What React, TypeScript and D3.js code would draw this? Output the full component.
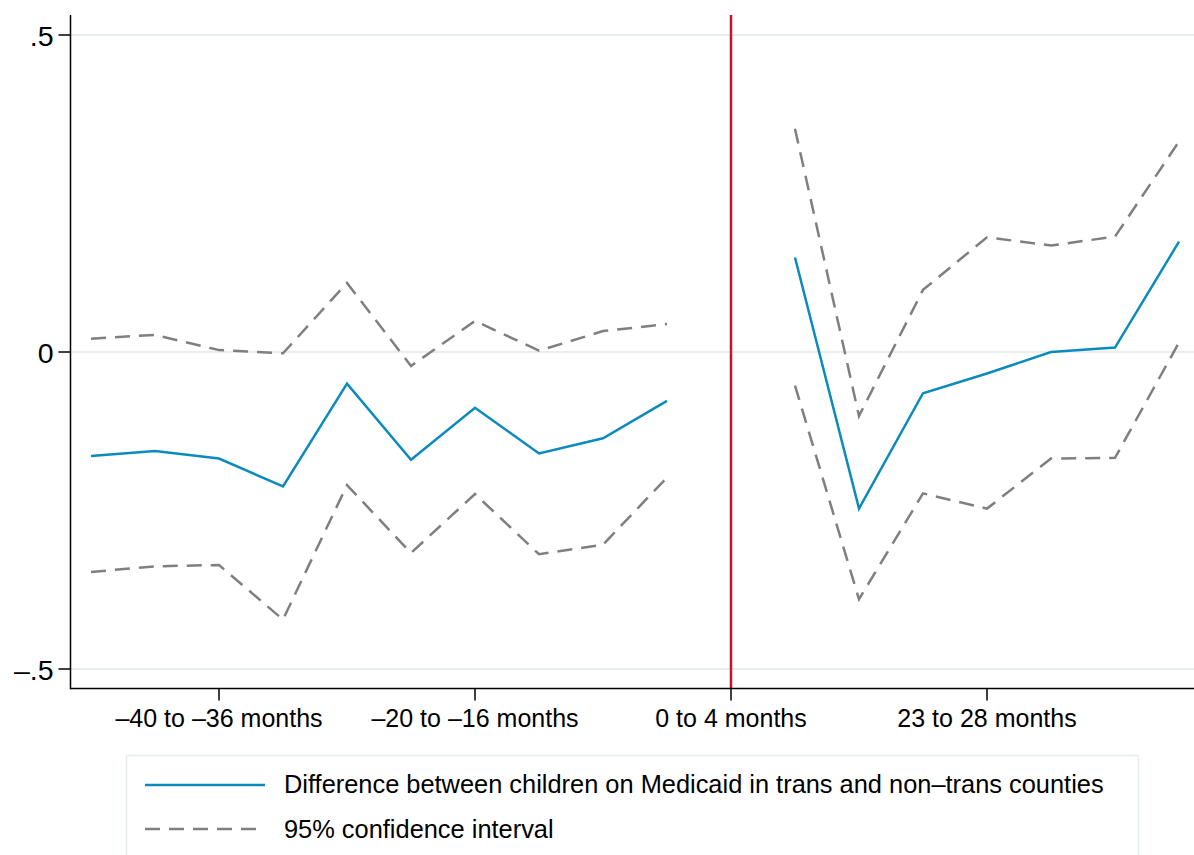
import React from "react";
import * as d3 from "d3";

// Period index 0..17 (index 10 = policy start, no estimate)
const periods: number[] = d3.range(0, 18);
const estimate: (number | null)[] = [
  -0.164, -0.156, -0.168, -0.212, -0.050, -0.170, -0.088, -0.160, -0.136, -0.077,
  null,
  0.149, -0.247, -0.065, -0.034, 0.000, 0.007, 0.174,
];
const upperCI: (number | null)[] = [
  0.021, 0.027, 0.003, -0.002, 0.109, -0.022, 0.049, 0.002, 0.033, 0.044,
  null,
  0.352, -0.101, 0.098, 0.181, 0.168, 0.182, 0.332,
];
const lowerCI: (number | null)[] = [
  -0.347, -0.338, -0.336, -0.422, -0.210, -0.317, -0.224, -0.319, -0.304, -0.198,
  null,
  -0.053, -0.390, -0.223, -0.247, -0.168, -0.167, 0.015,
];
const xTickIdx: number[] = [2, 6, 10, 14];
const xTickLabels: string[] = ["–40 to –36 months", "–20 to –16 months", "0 to 4 months", "23 to 28 months"];
const yTicks: number[] = [-0.5, 0, 0.5];
const yTickLabels: string[] = ["–.5", "0", ".5"];
const eventIdx = 10;
const legendLabels: string[] = [
  "Difference between children on Medicaid in trans and non–trans counties",
  "95% confidence interval",
];

const W = 1194, H = 855;
const axisX = 70.5, axisY = 688.5, plotTop = 15;
const BLUE = "#0b8bbd", GREY = "#7f7f7f", RED = "#c8102e", GRID = "#e6eef0";
const FONT = "'Liberation Sans', Arial, Helvetica, sans-serif";

export default function App() {
  const x = d3.scaleLinear().domain([0, 17]).range([91, 1179]);
  const y = d3.scaleLinear().domain([-0.5, 0.5]).range([669, 35]);

  const mk = (vals: (number | null)[]) =>
    d3
      .line<number>()
      .defined((i) => vals[i] !== null)
      .x((i) => x(i))
      .y((i) => y(vals[i] as number))(periods) || "";

  return (
    <svg
      width={W}
      height={H}
      style={{ position: "absolute", left: 0, top: 0, display: "block", background: "#fff" }}
      fontFamily={FONT}
    >
      <rect x={0} y={0} width={W} height={H} fill="#fff" />
      {/* gridlines */}
      {yTicks.map((t) => (
        <line key={"g" + t} x1={axisX} x2={W} y1={y(t)} y2={y(t)} stroke={GRID} strokeWidth={2} />
      ))}
      {/* event line */}
      <line x1={x(eventIdx)} x2={x(eventIdx)} y1={plotTop} y2={axisY} stroke={RED} strokeWidth={2.5} />
      {/* CI lines */}
      <path d={mk(upperCI)} fill="none" stroke={GREY} strokeWidth={2.5} strokeDasharray="15,9" />
      <path d={mk(lowerCI)} fill="none" stroke={GREY} strokeWidth={2.5} strokeDasharray="15,9" />
      {/* estimate */}
      <path d={mk(estimate)} fill="none" stroke={BLUE} strokeWidth={2.5} strokeLinejoin="miter" />
      {/* axes */}
      <line x1={axisX} x2={axisX} y1={plotTop} y2={axisY + 0.75} stroke="#000" strokeWidth={1.5} />
      <line x1={axisX} x2={W} y1={axisY} y2={axisY} stroke="#000" strokeWidth={1.5} />
      {yTicks.map((t, i) => (
        <g key={"y" + t}>
          <line x1={axisX - 12} x2={axisX} y1={y(t)} y2={y(t)} stroke="#000" strokeWidth={1.5} />
          <text x={axisX - 17} y={y(t) + 10.5} fontSize={28.5} textAnchor="end" fill="#000">
            {yTickLabels[i]}
          </text>
        </g>
      ))}
      {xTickIdx.map((t, i) => (
        <g key={"x" + t}>
          <line x1={x(t)} x2={x(t)} y1={axisY} y2={axisY + 12} stroke="#000" strokeWidth={1.5} />
          <text x={x(t)} y={727} fontSize={25} textAnchor="middle" fill="#000">
            {xTickLabels[i]}
          </text>
        </g>
      ))}
      {/* legend */}
      <rect x={126.5} y={755.5} width={1012} height={120} fill="#fff" stroke={GRID} strokeWidth={1.5} />
      <line x1={145} x2={265} y1={785} y2={785} stroke={BLUE} strokeWidth={2.5} />
      <text x={284} y={793} fontSize={25.4} fill="#000">{legendLabels[0]}</text>
      <line x1={145} x2={265} y1={829} y2={829} stroke={GREY} strokeWidth={2.5} strokeDasharray="15,9" />
      <text x={284} y={838} fontSize={25.4} fill="#000">{legendLabels[1]}</text>
    </svg>
  );
}
